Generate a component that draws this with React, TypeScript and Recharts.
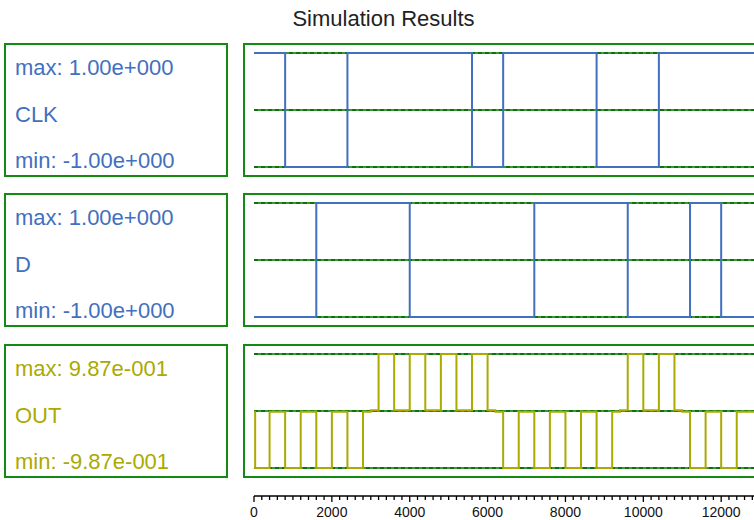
import React from 'react';
import { LineChart, Line, XAxis, YAxis, ReferenceLine } from 'recharts';

const X_MAX = 13100;

// CLK edges (stepAfter)
const clkTimes = [0, 800, 2400, 5600, 6400, 8800, 10400, X_MAX];
const clkValues = [1, -1, 1, -1, 1, -1, 1, 1];

// D edges
const dTimes = [0, 1600, 4000, 7200, 9600, 11200, 12000, X_MAX];
const dValues = [-1, 1, -1, 1, -1, 1, -1, -1];

// OUT edges
const outTimes = [
  0, 30, 400, 800, 1200, 1600, 2000, 2400, 2800, 3000,
  3200, 3600, 4000, 4400, 4800, 5200, 5600, 6000, 6200, 6400,
  6800, 7200, 7600, 8000, 8400, 8800, 9200, 9400, 9600, 10000,
  10400, 10800, 11000, 11200, 11600, 12000, 12400, X_MAX,
];
const outValues = [
  -0.015, -0.987, -0.015, -0.987, -0.015, -0.987, -0.015, -0.987, -0.015, 0.015,
  0.987, 0.015, 0.987, 0.015, 0.987, 0.015, 0.987, 0.015, -0.015, -0.987,
  -0.015, -0.987, -0.015, -0.987, -0.015, -0.987, -0.015, 0.015, 0.987, 0.015,
  0.987, 0.015, -0.015, -0.987, -0.015, -0.987, -0.015, -0.015,
];

const tickLabels = [0, 2000, 4000, 6000, 8000, 10000, 12000];
const xTicks: number[] = [];
for (let t = 0; t <= 13000; t += 200) xTicks.push(t);

const signalNames = ['CLK', 'D', 'OUT'];
const maxLabels = ['max: 1.00e+000', 'max: 1.00e+000', 'max: 9.87e-001'];
const minLabels = ['min: -1.00e+000', 'min: -1.00e+000', 'min: -9.87e-001'];
const signalLimits = [1, 1, 0.987];

const BLUE = '#4170bf';
const OLIVE = '#aaaa00';
const GREEN = '#138a13';
const FONT = '"Liberation Sans", Arial, Helvetica, sans-serif';

const panelTops = [44, 194, 345];
const BOX_H = 132;

const zip = (ts: number[], vs: number[]) => ts.map((t, i) => ({ t, v: vs[i] }));

const series = [
  { data: zip(clkTimes, clkValues), color: BLUE },
  { data: zip(dTimes, dValues), color: BLUE },
  { data: zip(outTimes, outValues), color: OLIVE },
];

const SignalChart = ({ data, top, lim, color }: any) => (
  <div style={{ position: 'absolute', left: 244, top }}>
    <LineChart width={520} height={BOX_H} data={data} margin={{ top: 9, right: 0, bottom: 9, left: 10 }}>
      <XAxis dataKey="t" type="number" domain={[0, X_MAX]} hide />
      <YAxis type="number" domain={[-lim, lim]} hide />
      {[lim, 0, -lim].map((v) => (
        <ReferenceLine key={'b' + v} y={v} stroke="#3a9a3a" strokeWidth={2} />
      ))}
      {[lim, 0, -lim].map((v) => (
        <ReferenceLine key={'d' + v} y={v} stroke="#0a730a" strokeWidth={2} strokeDasharray="4 3" />
      ))}
      <Line type="stepAfter" dataKey="v" stroke={color} strokeWidth={2} dot={false} isAnimationActive={false} />
    </LineChart>
  </div>
);

const AxisTick = (props: any) => {
  const { x, y, payload } = props;
  const v = payload.value;
  const labelled = tickLabels.includes(v);
  const len = labelled ? 6 : 4;
  return (
    <g>
      <line x1={x} x2={x} y1={y} y2={y + len} stroke="#000" strokeWidth={1.3} />
      {labelled && (
        <text x={x} y={y + 21} textAnchor="middle" fontSize={14} fontFamily={FONT} fill="#111">
          {v}
        </text>
      )}
    </g>
  );
};

export default function App() {
  return (
    <div
      style={{
        position: 'absolute',
        left: 0,
        top: 0,
        width: 754,
        height: 520,
        overflow: 'hidden',
        background: '#fff',
      }}
    >
      <svg width={754} height={520} style={{ position: 'absolute', left: 0, top: 0 }}>
        <text x={383.5} y={26} textAnchor="middle" fontSize={22} fontFamily={FONT} fill="#222">
          Simulation Results
        </text>
        {panelTops.map((top, i) => {
          const c = i === 2 ? OLIVE : BLUE;
          return (
            <g key={i}>
              <rect x={5} y={top} width={222} height={BOX_H} fill="none" stroke={GREEN} strokeWidth={2} />
              <rect x={244} y={top} width={600} height={BOX_H} fill="none" stroke={GREEN} strokeWidth={2} />
              <text x={15} y={top + 31} fontSize={22} fontFamily={FONT} fill={c}>
                {maxLabels[i]}
              </text>
              <text x={15} y={top + 77.5} fontSize={22} fontFamily={FONT} fill={c}>
                {signalNames[i]}
              </text>
              <text x={15} y={top + 123.5} fontSize={22} fontFamily={FONT} fill={c}>
                {minLabels[i]}
              </text>
            </g>
          );
        })}
      </svg>
      {series.map((s, i) => (
        <SignalChart key={i} data={s.data} top={panelTops[i]} lim={signalLimits[i]} color={s.color} />
      ))}
      <div style={{ position: 'absolute', left: 244, top: 485 }}>
        <LineChart width={520} height={34} data={series[0].data} margin={{ top: 10, right: 0, bottom: 0, left: 10 }}>
          <XAxis
            dataKey="t"
            type="number"
            domain={[0, X_MAX]}
            ticks={xTicks}
            interval={0}
            tickLine={false}
            tickSize={0}
            tickMargin={0}
            height={23}
            axisLine={{ stroke: '#000', strokeWidth: 1.3 }}
            tick={AxisTick}
          />
          <YAxis hide domain={[0, 1]} />
        </LineChart>
      </div>
    </div>
  );
}
